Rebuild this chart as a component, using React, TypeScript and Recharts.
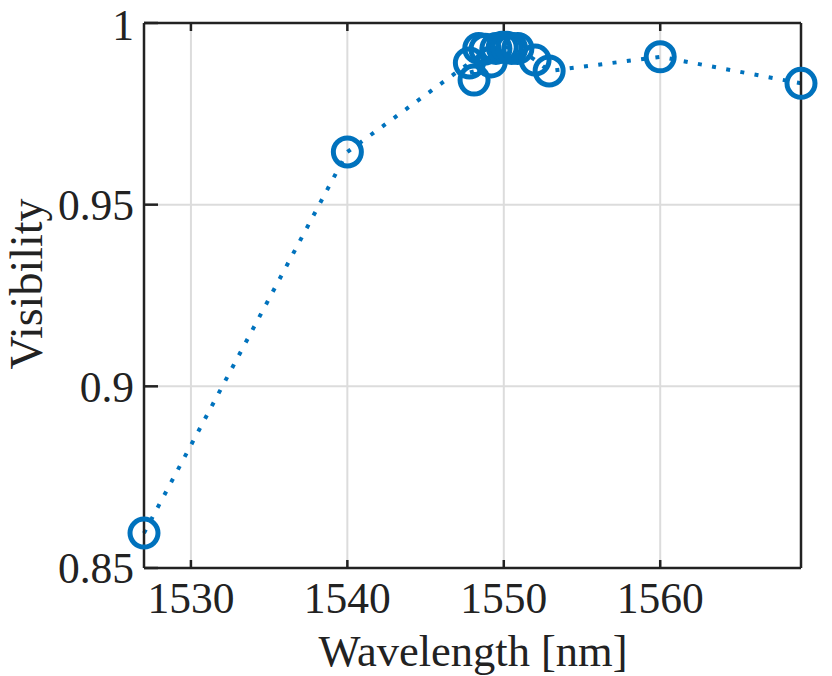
import React from "react";
import { LineChart, Line, XAxis, YAxis, CartesianGrid } from "recharts";

const wavelengths = [1527, 1540, 1547.8, 1548.1, 1548.4, 1548.8, 1549.2, 1549.5, 1549.9, 1550.2, 1550.5, 1550.9, 1552.0, 1552.9, 1560, 1569];
const visibility = [0.8596, 0.9645, 0.989, 0.9843, 0.993, 0.9928, 0.9893, 0.993, 0.9933, 0.9933, 0.993, 0.993, 0.9898, 0.9868, 0.9907, 0.9834];
const xTicks = [1530, 1540, 1550, 1560];
const yTicks = [0.85, 0.9, 0.95, 1];

const data = wavelengths.map((wl, i) => ({ wl, v: visibility[i] }));

const FONT = "'Liberation Serif', 'Times New Roman', serif";
const INK = "#222222";
const BLUE = "#0072BD";

const fmtY = (v: number) => (v === 1 ? "1" : String(v));

export default function App() {
  return (
    <div style={{ position: "absolute", left: 0, top: 0, width: 832, height: 676, background: "#fff" }}>
      <LineChart width={832} height={676} data={data} margin={{ top: 0, right: 0, left: 0, bottom: 0 }}>
        <CartesianGrid stroke="#dcdcdc" strokeWidth={2} />
        <XAxis
          xAxisId={0}
          type="number"
          dataKey="wl"
          domain={[1527, 1569]}
          ticks={xTicks}
          height={108}
          stroke={INK}
          strokeWidth={2.5}
          tickSize={-8}
          tickMargin={22}
          tick={{ fill: INK, fontSize: 43.5, fontFamily: FONT }}
          label={() => (
            <text x={473} y={666} textAnchor="middle" fill={INK} fontSize={44.5} fontFamily={FONT}>
              Wavelength [nm]
            </text>
          )}
        />
        <XAxis
          xAxisId="top"
          orientation="top"
          type="number"
          dataKey="wl"
          domain={[1527, 1569]}
          ticks={xTicks}
          height={23}
          stroke={INK}
          strokeWidth={2.5}
          tickSize={-8}
          tickFormatter={() => ""}
        />
        <YAxis
          yAxisId={0}
          domain={[0.85, 1]}
          ticks={yTicks}
          width={144}
          stroke={INK}
          strokeWidth={2.5}
          tickSize={-14}
          tickMargin={24}
          tickFormatter={fmtY}
          tick={{ fill: INK, fontSize: 43.5, fontFamily: FONT }}
          label={() => (
            <text
              x={42}
              y={284}
              transform="rotate(-90, 42, 284)"
              textAnchor="middle"
              fill={INK}
              fontSize={46}
              fontFamily={FONT}
            >
              Visibility
            </text>
          )}
        />
        <YAxis
          yAxisId="right"
          orientation="right"
          domain={[0.85, 1]}
          ticks={yTicks}
          width={31}
          stroke={INK}
          strokeWidth={2.5}
          tickSize={-14}
          tickFormatter={() => ""}
        />
        <Line
          xAxisId={0}
          yAxisId={0}
          type="linear"
          dataKey="v"
          stroke={BLUE}
          strokeWidth={4}
          strokeDasharray="4 10.4"
          dot={{ r: 14, stroke: BLUE, strokeWidth: 5, fill: "none", strokeDasharray: "" }}
          isAnimationActive={false}
        />
      </LineChart>
    </div>
  );
}
